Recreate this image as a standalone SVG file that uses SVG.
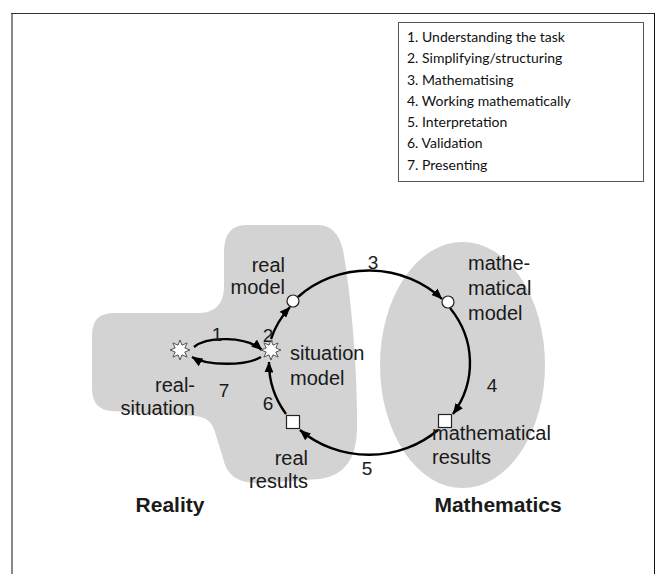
<svg xmlns="http://www.w3.org/2000/svg" width="660" height="574" viewBox="0 0 660 574">
  <style>
    .lbl { font-family: "Liberation Sans", Arial, sans-serif; font-size: 20px; fill: #1a1a1a; }
    .num { font-family: "Liberation Sans", Arial, sans-serif; font-size: 19px; fill: #1a1a1a; }
    .ttl { font-family: "Liberation Sans", Arial, sans-serif; font-size: 21px; font-weight: bold; fill: #1a1a1a; }
    .leg { font-family: Lato, "Open Sans", sans-serif; font-size: 14px; fill: #111; }
    .region { fill: #d3d3d3; stroke: none; }
    .conn { fill: none; stroke: #000; stroke-width: 2.4; marker-end: url(#arrow); }
    .node { fill: #fff; stroke: #222; stroke-width: 1.2; }
    .star { fill: #fff; stroke: #555; stroke-width: 1; }
  </style>
  <defs>
    <marker id="arrow" markerUnits="userSpaceOnUse" markerWidth="11" markerHeight="9" refX="10.5" refY="4.5" orient="auto">
      <path d="M0,0 L11,4.5 L0,9 Z" fill="#000"/>
    </marker>
    <polygon id="starShape" points="0,-10 2,-4.8 7.1,-7.1 4.8,-2 10,0 4.8,2 7.1,7.1 2,4.8 0,10 -2,4.8 -7.1,7.1 -4.8,2 -10,0 -4.8,-2 -7.1,-7.1 -2,-4.8"/>
  </defs>

  <rect width="660" height="574" fill="#fff"/>

  <!-- outer frame -->
  <g id="frame">
    <rect x="11" y="13" width="2" height="561" fill="#8a8a8a"/>
    <line x1="11" y1="13.5" x2="655" y2="13.5" stroke="#333" stroke-width="1"/>
    <line x1="654.5" y1="13" x2="654.5" y2="574" stroke="#111" stroke-width="1"/>
  </g>

  <!-- regions -->
  <g id="reality-region">
    <path class="region" d="M246,225 L318,225 Q337,225 343,250 C352,300 358,380 357,430 Q356,474 320,479 L262,483 Q228,485 223,458 L215,432 Q211,417 195,416 L112,411 Q92,410 92,388 L92,335 Q92,313 114,313 L200,313 Q223,312 224,288 L224,250 Q225,225 246,225 Z"/>
  </g>
  <g id="mathematics-region">
    <ellipse class="region" cx="462.5" cy="365" rx="82.5" ry="123"/>
  </g>

  <!-- connectors -->
  <g id="connectors">
    <path class="conn" d="M194,347 C207,336 246,336 262,350"/>
    <path class="conn" d="M261,357 C246,366 207,366 192,357"/>
    <path class="conn" d="M271,339 A101 92 0 0 1 290,307"/>
    <path class="conn" d="M298,297 A101 92 0 0 1 442,299"/>
    <path class="conn" d="M450,308 A101 92 0 0 1 453,414"/>
    <path class="conn" d="M438,430 A101 92 0 0 1 300,430"/>
    <path class="conn" d="M286,414 A101 92 0 0 1 269,362"/>
  </g>

  <!-- connector numbers -->
  <g id="connector-labels">
    <text class="num" x="217" y="341" text-anchor="middle">1</text>
    <text class="num" x="268" y="342" text-anchor="middle">2</text>
    <text class="num" x="373" y="269" text-anchor="middle">3</text>
    <text class="num" x="492" y="392" text-anchor="middle">4</text>
    <text class="num" x="367" y="475" text-anchor="middle">5</text>
    <text class="num" x="268" y="410" text-anchor="middle">6</text>
    <text class="num" x="224" y="397" text-anchor="middle">7</text>
  </g>

  <!-- nodes -->
  <g id="real-situation">
    <use href="#starShape" class="star" x="180" y="350"/>
    <text class="lbl" x="195" y="392" text-anchor="end">real-</text>
    <text class="lbl" x="195" y="415" text-anchor="end">situation</text>
  </g>
  <g id="situation-model">
    <use href="#starShape" class="star" x="271" y="350"/>
    <text class="lbl" x="290" y="360">situation</text>
    <text class="lbl" x="290" y="385">model</text>
  </g>
  <g id="real-model">
    <circle class="node" cx="293" cy="301" r="6"/>
    <text class="lbl" x="285" y="272" text-anchor="end">real</text>
    <text class="lbl" x="285" y="294" text-anchor="end">model</text>
  </g>
  <g id="mathematical-model">
    <circle class="node" cx="448" cy="302" r="6"/>
    <text class="lbl" x="468" y="270">mathe-</text>
    <text class="lbl" x="468" y="295">matical</text>
    <text class="lbl" x="468" y="320">model</text>
  </g>
  <g id="mathematical-results">
    <rect class="node" x="438.5" y="414.5" width="13" height="13"/>
    <text class="lbl" x="432" y="440">mathematical</text>
    <text class="lbl" x="432" y="464">results</text>
  </g>
  <g id="real-results">
    <rect class="node" x="286.5" y="415.5" width="13" height="13"/>
    <text class="lbl" x="308" y="465" text-anchor="end">real</text>
    <text class="lbl" x="308" y="488" text-anchor="end">results</text>
  </g>

  <!-- region titles -->
  <g id="titles">
    <text class="ttl" x="170" y="512" text-anchor="middle">Reality</text>
    <text class="ttl" x="498" y="512" text-anchor="middle">Mathematics</text>
  </g>

  <!-- legend -->
  <g id="legend">
    <rect x="398.5" y="22.5" width="245" height="159" fill="#fff" stroke="#555" stroke-width="1"/>
    <text class="leg" x="407" y="42">1. Understanding the task</text>
    <text class="leg" x="407" y="63">2. Simplifying/structuring</text>
    <text class="leg" x="407" y="85">3. Mathematising</text>
    <text class="leg" x="407" y="106">4. Working mathematically</text>
    <text class="leg" x="407" y="127">5. Interpretation</text>
    <text class="leg" x="407" y="148">6. Validation</text>
    <text class="leg" x="407" y="170">7. Presenting</text>
  </g>
</svg>
